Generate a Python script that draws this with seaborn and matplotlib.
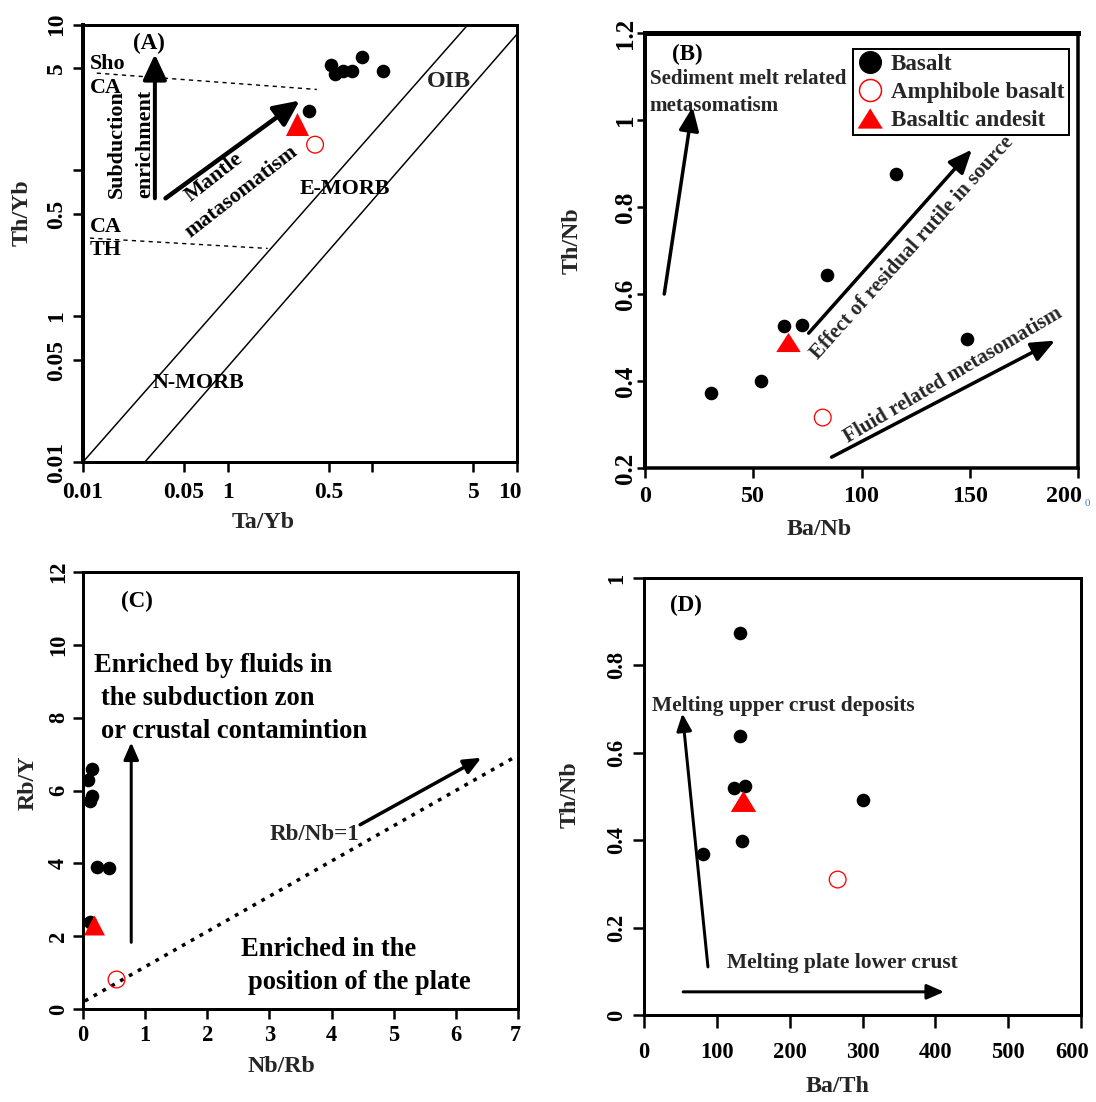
import matplotlib
matplotlib.use("Agg")
import matplotlib.pyplot as plt
import seaborn as sns
from matplotlib.lines import Line2D
from matplotlib.ticker import NullLocator
from matplotlib.transforms import ScaledTranslation

# ---------------- (A) Th/Yb vs Ta/Yb ----------------
a_basalt_ta_yb = [0.364, 0.520, 0.550, 0.630, 0.723, 0.842, 1.183]
a_basalt_th_yb = [2.54, 5.31, 4.58, 4.79, 4.79, 5.96, 4.79]
a_amph_ta_yb = [0.402]
a_amph_th_yb = [1.50]
a_andes_ta_yb = [0.303]
a_andes_th_yb = [2.07]
a_array_upper_x = [0.01, 4.59]
a_array_upper_y = [0.01, 10.0]
a_array_lower_x = [0.0268, 10.0]
a_array_lower_y = [0.01, 8.59]
a_sho_ca_x = [0.01245, 0.4135]
a_sho_ca_y = [4.64, 3.585]
a_ca_th_x = [0.01116, 0.189]
a_ca_th_y = [0.343, 0.2914]
a_ticks = [0.01, 0.05, 0.1, 0.5, 1, 5, 10]
a_tick_labels = ["0.01", "0.05", "1", "0.5", "", "5", "10"]

# ---------------- (B) Th/Nb vs Ba/Nb ----------------
b_basalt_ba_nb = [30.6, 53.7, 64.4, 72.4, 83.9, 116.1, 148.5]
b_basalt_th_nb = [0.373, 0.400, 0.526, 0.528, 0.644, 0.875, 0.497]
b_amph_ba_nb = [82.1]
b_amph_th_nb = [0.316]
b_andes_ba_nb = [66.0]
b_andes_th_nb = [0.490]
b_xticks = [0, 50, 100, 150, 200]
b_yticks = [0.2, 0.4, 0.6, 0.8, 1.0, 1.2]
b_ytick_labels = ["0.2", "0.4", "0.6", "0.8", "1", "1.2"]

# ---------------- (C) Rb/Y vs Nb/Rb ----------------
c_basalt_nb_rb = [0.14, 0.08, 0.15, 0.12, 0.22, 0.42, 0.11]
c_basalt_rb_y = [6.59, 6.28, 5.85, 5.72, 3.91, 3.86, 2.40]
c_amph_nb_rb = [0.54]
c_amph_rb_y = [0.81]
c_andes_nb_rb = [0.17]
c_andes_rb_y = [2.31]
c_ref_x = [0.03, 6.93]
c_ref_y = [0.22, 6.90]
c_xticks = [0, 1, 2, 3, 4, 5, 6, 7]
c_yticks = [0, 2, 4, 6, 8, 10, 12]

# ---------------- (D) Th/Nb vs Ba/Th ----------------
d_basalt_ba_th = [81.5, 134.0, 123.4, 138.0, 131.7, 131.7, 300.0]
d_basalt_th_nb = [0.368, 0.398, 0.519, 0.524, 0.639, 0.873, 0.491]
d_amph_ba_th = [265.9]
d_amph_th_nb = [0.310]
d_andes_ba_th = [136.6]
d_andes_th_nb = [0.489]
d_xticks = [0, 100, 200, 300, 400, 500, 600]
d_yticks = [0, 0.2, 0.4, 0.6, 0.8, 1.0]
d_ytick_labels = ["0", "0.2", "0.4", "0.6", "0.8", "1"]

legend_labels = ["Basalt", "Amphibole basalt", "Basaltic andesit"]

sns.set_theme(style="ticks")
plt.rcParams["font.family"] = ["Liberation Serif", "DejaVu Serif"]
plt.rcParams["font.weight"] = "bold"
plt.rcParams["axes.labelweight"] = "bold"

W, H = 1096, 1102
fig = plt.figure(figsize=(W / 72, H / 72), dpi=72)
fig.patch.set_facecolor("white")


def px_axes(l, t, r, b):
    return fig.add_axes([l / W, 1 - b / H, (r - l) / W, (b - t) / H])


axA = px_axes(83, 24.5, 517, 462)
axB = px_axes(645, 33, 1078, 468)
axC = px_axes(83, 572, 518, 1009)
axD = px_axes(644, 578, 1081, 1015)

TXT = dict(fontsize=22, fontweight="bold", color="black")
TAG = dict(fontsize=23, fontweight="bold", color="black")


def tri(h):
    return [(0, h), (-1, -h), (1, -h)]


def draw_points(ax, bx, by, mx, my, tx, ty, tri_marker, tri_size):
    sns.scatterplot(x=bx, y=by, ax=ax, color="black", edgecolor="black",
                    s=185, linewidth=0, marker="o", zorder=5, legend=False)
    sns.scatterplot(x=mx, y=my, ax=ax, color="red", facecolor="none",
                    edgecolor="red", s=280, linewidth=1.3, marker="o",
                    zorder=5, legend=False)
    sns.scatterplot(x=tx, y=ty, ax=ax, color="red", edgecolor="red",
                    s=tri_size ** 2, linewidth=0, marker=tri_marker,
                    zorder=6, legend=False)


def arrow(ax, start, tip, lw=3.5, ms=22, hl=0.9, hw=0.4):
    ax.annotate("", xy=tip, xytext=start,
                arrowprops=dict(arrowstyle=f"-|>,head_length={hl},head_width={hw}",
                                lw=lw, color="black", shrinkA=0, shrinkB=0,
                                mutation_scale=ms),
                zorder=4)


def style_axes(ax, spine_w, xlab, ylab, xlab_pos, ylab_pos, xfs, yfs,
               xlen, xpad, ylen, ypad, last_dx):
    for side, w in spine_w.items():
        ax.spines[side].set_visible(True)
        ax.spines[side].set_linewidth(w)
        ax.spines[side].set_color("black")
    ax.set_facecolor("white")
    ax.grid(False)
    ax.tick_params(axis="x", direction="out", length=xlen, width=2.5,
                   color="black", labelsize=xfs, pad=xpad, labelcolor="black")
    ax.tick_params(axis="y", direction="out", length=ylen, width=2.5,
                   color="black", labelsize=yfs, pad=ypad, labelcolor="black",
                   labelrotation=90)
    for lab in ax.get_yticklabels():
        lab.set_va("center")
        lab.set_fontweight("bold")
    xl = ax.get_xticklabels()
    for lab in xl:
        lab.set_fontweight("bold")
    # the right-most label sits a little inside the frame edge
    xl[-1].set_transform(xl[-1].get_transform()
                         + ScaledTranslation(last_dx / 72, 0, fig.dpi_scale_trans))
    ax.set_xlabel(xlab, fontsize=24, fontweight="bold")
    ax.set_ylabel(ylab, fontsize=24, fontweight="bold")
    ax.xaxis.set_label_coords(*xlab_pos)
    ax.yaxis.set_label_coords(*ylab_pos)


# ---------------- panel A ----------------
axA.set_xscale("log")
axA.set_yscale("log")
axA.plot(a_array_upper_x, a_array_upper_y, color="black", lw=1.5, zorder=2)
axA.plot(a_array_lower_x, a_array_lower_y, color="black", lw=1.5, zorder=2)
axA.plot(a_sho_ca_x, a_sho_ca_y, color="black", lw=1.4, ls=(0, (3, 3)), zorder=2)
axA.plot(a_ca_th_x, a_ca_th_y, color="black", lw=1.4, ls=(0, (3, 3)), zorder=2)
draw_points(axA, a_basalt_ta_yb, a_basalt_th_yb, a_amph_ta_yb, a_amph_th_yb,
            a_andes_ta_yb, a_andes_th_yb, tri(1.0), 23)
axA.set_xlim(0.01, 10)
axA.set_ylim(0.01, 10)
axA.set_xticks(a_ticks)
axA.set_xticklabels(a_tick_labels)
axA.set_yticks(a_ticks)
axA.set_yticklabels(a_tick_labels)
axA.xaxis.set_minor_locator(NullLocator())
axA.yaxis.set_minor_locator(NullLocator())
arrow(axA, (0.0314, 0.643), (0.0314, 6.25), lw=4, ms=24, hl=0.9, hw=0.42)
arrow(axA, (0.0372, 0.643), (0.315, 3.01), lw=4.5, ms=24, hl=0.9, hw=0.42)
axA.text(0.0286, 7.36, "(A)", ha="center", va="center", **TAG)
axA.text(0.01116, 5.40, "Sho", ha="left", va="center", **TXT)
axA.text(0.01116, 3.685, "CA", ha="left", va="center", **TXT)
axA.text(0.01116, 0.409, "CA", ha="left", va="center", **TXT)
axA.text(0.01116, 0.2836, "TH", ha="left", va="center", **TXT)
axA.text(0.0170, 1.51, "Subduction", rotation=90, ha="center", va="center", **TXT)
axA.text(0.0271, 1.52, "enrichment", rotation=90, ha="center", va="center", **TXT)
axA.text(0.0809, 0.892, "Mantle", rotation=38, rotation_mode="anchor",
         ha="center", va="center", **TXT)
axA.text(0.1234, 0.717, "matasomatism", rotation=38, rotation_mode="anchor",
         ha="center", va="center", **TXT)
axA.text(0.648, 0.745, "E-MORB", ha="center", va="center", **TXT)
axA.text(3.38, 4.06, "OIB", ha="center", va="center", fontsize=24,
         fontweight="bold")
axA.text(0.0626, 0.0347, "N-MORB", ha="center", va="center", **TXT)
style_axes(axA, {"left": 4, "right": 3, "top": 3, "bottom": 3},
           "Ta/Yb", "Th/Yb", (0.415, -0.114), (-0.115, 0.569),
           23.5, 23.5, 10, 9.5, 10, 6, -7)

# ---------------- panel B ----------------
draw_points(axB, b_basalt_ba_nb, b_basalt_th_nb, b_amph_ba_nb, b_amph_th_nb,
            b_andes_ba_nb, b_andes_th_nb, tri(0.78), 24.5)
axB.set_xlim(0, 200)
axB.set_ylim(0.2, 1.2)
axB.set_xticks(b_xticks)
axB.set_yticks(b_yticks)
axB.set_yticklabels(b_ytick_labels)
arrow(axB, (8.9, 0.60), (22.0, 1.03), lw=3.5, ms=22, hl=0.9, hw=0.38)
arrow(axB, (75.6, 0.51), (151.0, 0.932), lw=3.5, ms=22, hl=0.9, hw=0.38)
arrow(axB, (86.2, 0.225), (189.4, 0.493), lw=3.5, ms=22, hl=0.9, hw=0.38)
axB.text(19.5, 1.15, "(B)", ha="center", va="center", **TAG)
axB.text(2.1, 1.095, "Sediment melt related", ha="left", va="center", fontsize=21)
axB.text(2.1, 1.032, "metasomatism", ha="left", va="center", fontsize=21)
axB.text(123.6, 0.705, "Effect of residual rutile in source", rotation=48,
         rotation_mode="anchor", ha="center", va="center", fontsize=21)
axB.text(142.3, 0.413, "Fluid related metasomatism", rotation=30.5,
         rotation_mode="anchor", ha="center", va="center", fontsize=21)
handles = [
    Line2D([], [], ls="", marker="o", markersize=22, color="black", mec="black"),
    Line2D([], [], ls="", marker="o", markersize=22, mfc="none", mec="red", mew=1.5),
    Line2D([], [], ls="", marker=tri(0.8), markersize=24, color="red", mec="red"),
]
leg = axB.legend(handles, legend_labels, loc="upper right",
                 bbox_to_anchor=(0.979, 0.963), borderaxespad=0, frameon=True,
                 fancybox=False, edgecolor="black", framealpha=1,
                 prop=dict(family="Liberation Serif", weight="bold", size=23),
                 handlelength=1.1, handletextpad=0.35, labelspacing=0.3,
                 borderpad=0.2)
leg.get_frame().set_linewidth(2)
style_axes(axB, {"left": 4, "right": 3.5, "top": 5, "bottom": 3.5},
           "Ba/Nb", "Th/Nb", (0.402, -0.117), (-0.143, 0.522),
           24, 25, 10, 8, 8, 0, -14)
fig.text(1087 / W, 1 - 503 / H, "0", color="#2a7fd4", fontsize=11,
         ha="center", va="center", fontweight="normal")

# ---------------- panel C ----------------
axC.plot(c_ref_x, c_ref_y, color="black", lw=3.5, ls=(0, (1.1, 1.8)), zorder=2)
draw_points(axC, c_basalt_nb_rb, c_basalt_rb_y, c_amph_nb_rb, c_amph_rb_y,
            c_andes_nb_rb, c_andes_rb_y, tri(0.95), 21)
axC.set_xlim(0, 7)
axC.set_ylim(0, 12)
axC.set_xticks(c_xticks)
axC.set_yticks(c_yticks)
arrow(axC, (0.776, 1.83), (0.776, 7.32), lw=3, ms=18, hl=0.8, hw=0.35)
arrow(axC, (4.46, 5.06), (6.41, 6.90), lw=3.5, ms=18, hl=0.8, hw=0.35)
TXT_C = dict(TXT, fontsize=26.5)
axC.text(0.876, 11.2, "(C)", ha="center", va="center", **TAG)
axC.text(0.177, 9.43, "Enriched by fluids in", ha="left", va="center", **TXT_C)
axC.text(0.29, 8.53, "the subduction zon", ha="left", va="center", **TXT_C)
axC.text(0.29, 7.63, "or crustal contamintion", ha="left", va="center", **TXT_C)
axC.text(3.0, 4.78, "Rb/Nb=1", ha="left", va="center", fontsize=23)
axC.text(2.55, 1.64, "Enriched in the", ha="left", va="center", **TXT_C)
axC.text(2.66, 0.74, "position of the plate", ha="left", va="center", **TXT_C)
style_axes(axC, {"left": 3, "right": 3, "top": 3, "bottom": 3},
           "Nb/Rb", "Rb/Y", (0.455, -0.108), (-0.103, 0.517),
           22.5, 22.5, 10, 6, 10, 4, -3)

# ---------------- panel D ----------------
draw_points(axD, d_basalt_ba_th, d_basalt_th_nb, d_amph_ba_th, d_amph_th_nb,
            d_andes_ba_th, d_andes_th_nb, tri(0.82), 25.5)
axD.set_xlim(0, 600)
axD.set_ylim(0, 1)
axD.set_xticks(d_xticks)
axD.set_yticks(d_yticks)
axD.set_yticklabels(d_ytick_labels)
arrow(axD, (87.8, 0.11), (52.7, 0.69), lw=3, ms=18, hl=0.8, hw=0.35)
arrow(axD, (53.7, 0.053), (412.0, 0.053), lw=3, ms=18, hl=0.8, hw=0.35)
axD.text(57, 0.938, "(D)", ha="center", va="center", **TAG)
axD.text(11.2, 0.706, "Melting upper crust deposits", ha="left", va="center",
         fontsize=21.5)
axD.text(114.6, 0.118, "Melting plate lower crust", ha="left", va="center",
         fontsize=21.5)
style_axes(axD, {"left": 3, "right": 3, "top": 3, "bottom": 3},
           "Ba/Th", "Th/Nb", (0.443, -0.14), (-0.144, 0.505),
           22.5, 22.5, 13, 14, 11, 6, -9)

fig.savefig("out.png", dpi=72, facecolor="white")
